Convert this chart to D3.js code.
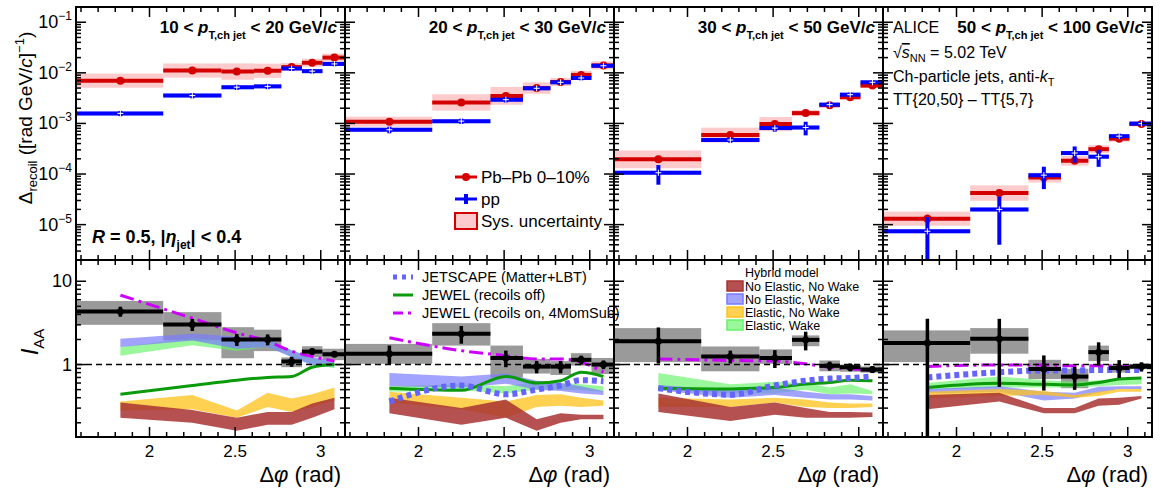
<!DOCTYPE html>
<html>
<head>
<meta charset="utf-8">
<script src="https://cdn.jsdelivr.net/npm/d3@7"></script>
<style>
body { margin: 0; background: #fff; }
text { font-family: "Liberation Sans", Arial, Helvetica, sans-serif; fill: #000; }
</style>
</head>
<body>
<svg id="chart" width="1162" height="488"></svg>
<script>
// delta-phi binning (rad)
var dphiEdges = [Math.PI/2, 2.08, 2.42, 2.61, 2.77, 2.89, 3.01, Math.PI];
var dphiCenters = [1.83, 2.25, 2.51, 2.69, 2.83, 2.95, 3.08];
var ptBins = [['10','20'], ['20','30'], ['30','50'], ['50','100']];

// Delta_recoil, Pb-Pb 0-10%
var pbpbVal = [
	[7.0e-3, 1.11e-2, 1.06e-2, 1.1e-2, 1.3e-2, 1.58e-2, 2.0e-2],
	[1.08e-3, 2.6e-3, 3.5e-3, 5.0e-3, 6.6e-3, 9.1e-3, 1.4e-2],
	[1.95e-4, 5.9e-4, 9.7e-4, 1.6e-3, 2.3e-3, 3.3e-3, 5.6e-3],
	[1.31e-5, 4.2e-5, 8.5e-5, 1.83e-4, 3.1e-4, 5.0e-4, 9.8e-4]];
var pbpbStat = [
	[0.08, 0.08, 0.08, 0.08, 0.06, 0.06, 0.06],
	[0.1, 0.08, 0.08, 0.06, 0.06, 0.06, 0.06],
	[0.12, 0.1, 0.08, 0.08, 0.06, 0.06, 0.06],
	[0.2, 0.12, 0.1, 0.1, 0.08, 0.06, 0.06]];
var pbpbSys = [ // multiplicative
	[1.38, 1.38, 1.45, 1.38, 1.2, 1.2, 1.2],
	[1.26, 1.45, 1.5, 1.3, 1.2, 1.2, 1.2],
	[1.5, 1.4, 1.38, 1.15, 1.12, 1.12, 1.12],
	[1.38, 1.42, 1.25, 1.25, 1.2, 1.15, 1.12]];

// Delta_recoil, pp
var ppVal = [
	[1.58e-3, 3.55e-3, 5.2e-3, 5.4e-3, 1.22e-2, 1.08e-2, 1.5e-2],
	[7.5e-4, 1.11e-3, 2.95e-3, 4.95e-3, 6.5e-3, 7.9e-3, 1.38e-2],
	[1.06e-4, 4.7e-4, 8.1e-4, 8.3e-4, 2.35e-3, 3.7e-3, 6.5e-3],
	[7.4e-6, 2.0e-5, 9.5e-5, 2.6e-4, 2.2e-4, 5.6e-4, 9.9e-4]];
var ppStat = [
	[0.12, 0.12, 0.12, 0.12, 0.1, 0.1, 0.1],
	[0.15, 0.12, 0.12, 0.1, 0.1, 0.1, 0.08],
	[0.42, 0.12, 0.15, 0.3, 0.1, 0.1, 0.08],
	[0.9, 0.8, 0.47, 0.35, 0.37, 0.12, 0.08]];
var ppSys = 1.1;

// I_AA data
var iaaVal = [
	[4.35, 3.03, 2.0, 2.0, 1.09, 1.43, 1.33],
	[1.35, 2.34, 1.2, 0.945, 0.945, 1.14, 1.0],
	[1.91, 1.25, 1.2, 1.98, 0.965, 0.93, 0.87],
	[1.81, 2.04, 0.887, 0.717, 1.41, 0.91, 0.945]];
var iaaStat = [
	[0.6, 0.5, 0.33, 0.3, 0.15, 0.12, 0.1],
	[0.34, 0.56, 0.27, 0.16, 0.16, 0.14, 0.12],
	[0.88, 0.22, 0.29, 0.5, 0.12, 0.1, 0.08],
	[1.74, 1.5, 0.4, 0.22, 0.44, 0.22, 0.12]];
var iaaSysLo = [
	[3.0, 1.95, 1.19, 1.45, 0.93, 1.22, 1.13],
	[1.02, 1.69, 0.70, 0.78, 0.75, 0.97, 0.77],
	[1.07, 0.83, 1.02, 1.66, 0.83, 0.82, 0.8],
	[1.07, 1.35, 0.67, 0.52, 1.1, 0.8, 0.88]];
var iaaSysHi = [
	[5.8, 4.26, 2.81, 2.62, 1.22, 1.66, 1.55],
	[1.77, 3.14, 1.69, 1.17, 1.1, 1.37, 1.2],
	[2.74, 1.65, 1.52, 2.24, 1.12, 1.0, 0.95],
	[2.57, 2.74, 1.14, 0.89, 1.69, 1.0, 1.02]];

// models
var jewelOn = [
	[6.8, 3.6, 2.4, 1.9, 1.45, 1.25, 1.1],
	[2.1, 1.47, 1.28, 1.17, 1.17, 1.07, 0.81],
	[1.17, 1.12, 1.1, 1.02, 0.93, 0.89, 0.85],
	[0.95, 0.99, 0.99, 0.97, 0.97, 0.95, 0.93]];
var jewelOff = [
	[0.44, 0.56, 0.65, 0.70, 0.72, 0.93, 1.0],
	[0.52, 0.49, 0.72, 0.60, 0.64, 0.81, 0.72],
	[0.52, 0.51, 0.53, 0.585, 0.61, 0.65, 0.64],
	[0.53, 0.595, 0.58, 0.57, 0.61, 0.67, 0.69]];
var jetscape = [
	null,
	[0.36, 0.56, 0.44, 0.50, 0.56, 0.65, 0.63],
	[0.52, 0.435, 0.56, 0.64, 0.68, 0.69, 0.72],
	[0.70, 0.81, 0.85, 0.85, 0.86, 0.86, 0.86]];

// hybrid model bands
var hybNoElNoWakeLo = [
	[0.23, 0.20, 0.16, 0.19, 0.19, 0.23, 0.29],
	[0.26, 0.19, 0.23, 0.16, 0.20, 0.22, 0.22],
	[0.27, 0.21, 0.25, 0.23, 0.23, 0.23, 0.235],
	[0.29, 0.36, 0.26, 0.26, 0.32, 0.33, 0.39]];
var hybNoElNoWakeHi = [
	[0.35, 0.285, 0.23, 0.27, 0.27, 0.34, 0.40],
	[0.40, 0.30, 0.38, 0.22, 0.26, 0.25, 0.25],
	[0.45, 0.31, 0.35, 0.30, 0.27, 0.27, 0.265],
	[0.43, 0.46, 0.30, 0.30, 0.39, 0.40, 0.42]];
var hybNoElWakeLo = [
	[1.62, 1.95, 1.55, 1.62, 1.22, 0.98, 0.94],
	[0.55, 0.53, 0.59, 0.50, 0.48, 0.45, 0.43],
	[0.49, 0.40, 0.43, 0.40, 0.38, 0.38, 0.37],
	[0.45, 0.47, 0.37, 0.39, 0.46, 0.51, 0.51]];
var hybNoElWakeHi = [
	[2.04, 2.34, 2.17, 2.04, 1.47, 1.22, 1.12],
	[0.79, 0.72, 0.78, 0.64, 0.60, 0.55, 0.48],
	[0.57, 0.49, 0.53, 0.47, 0.44, 0.44, 0.42],
	[0.51, 0.55, 0.47, 0.46, 0.54, 0.55, 0.55]];
var hybElNoWakeLo = [
	[0.28, 0.29, 0.23, 0.31, 0.27, 0.31, 0.37],
	[0.35, 0.29, 0.23, 0.31, 0.32, 0.31, 0.32],
	[0.31, 0.31, 0.35, 0.31, 0.30, 0.30, 0.31],
	[0.39, 0.42, 0.43, 0.40, 0.42, 0.47, 0.47]];
var hybElNoWakeHi = [
	[0.36, 0.43, 0.28, 0.46, 0.39, 0.44, 0.53],
	[0.47, 0.40, 0.36, 0.43, 0.44, 0.40, 0.37],
	[0.40, 0.38, 0.40, 0.38, 0.35, 0.34, 0.34],
	[0.47, 0.51, 0.48, 0.43, 0.47, 0.51, 0.51]];
var hybElWakeLo = [
	[1.28, 1.7, 1.45, 1.65, 1.25, 1.0, 0.9],
	[0.47, 0.49, 0.45, 0.50, 0.50, 0.49, 0.47],
	[0.50, 0.45, 0.45, 0.50, 0.44, 0.45, 0.44],
	[0.50, 0.53, 0.53, 0.53, 0.55, 0.57, 0.58]];
var hybElWakeHi = [
	[1.62, 2.1, 1.9, 2.0, 1.5, 1.2, 1.05],
	[0.55, 0.58, 0.55, 0.62, 0.60, 0.58, 0.55],
	[0.79, 0.58, 0.62, 0.60, 0.53, 0.58, 0.48],
	[0.60, 0.72, 0.65, 0.62, 0.65, 0.67, 0.67]];

var svg = d3.select('#chart');
var left = 76, panelW = 269, topY = 7, midY = 260, botY = 437;
var yTop = d3.scaleLog().domain([2e-6, 0.2]).range([midY, topY]);
var yBot = d3.scaleLog().domain([0.135, 18]).range([botY, midY]);
var bins = d3.range(7);

var bands = [
	{lo: hybNoElNoWakeLo, hi: hybNoElNoWakeHi, fill: '#a83232', op: 0.85, name: 'No Elastic, No Wake'},
	{lo: hybNoElWakeLo, hi: hybNoElWakeHi, fill: '#7a7aff', op: 0.7, name: 'No Elastic, Wake'},
	{lo: hybElNoWakeLo, hi: hybElNoWakeHi, fill: '#ffc21a', op: 0.75, name: 'Elastic, No Wake'},
	{lo: hybElWakeLo, hi: hybElWakeHi, fill: '#66f266', op: 0.65, name: 'Elastic, Wake'}];
var drawOrder = [3, 1, 2, 0];

var defs = svg.append('defs');

function logTicks(lo, hi) {
	var major = [], minor = [];
	for (var e = -7; e <= 2; e++)
		for (var k = 1; k < 10; k++) {
			var v = k * Math.pow(10, e);
			if (v < lo || v > hi) continue;
			(k == 1 ? major : minor).push(v);
		}
	return {major: major, minor: minor};
}

ptBins.forEach(function(pt, p) {
	var x0 = left + p*panelW, x1 = x0 + panelW;
	var x = d3.scaleLinear().domain([Math.PI/2, Math.PI]).range([x0, x1]);

	defs.append('clipPath').attr('id', 'ct'+p).append('rect')
		.attr('x', x0).attr('y', topY).attr('width', panelW).attr('height', midY-topY);
	defs.append('clipPath').attr('id', 'cb'+p).append('rect')
		.attr('x', x0).attr('y', midY).attr('width', panelW).attr('height', botY-midY);

	// ---------- top panel ----------
	var gt = svg.append('g').attr('clip-path', 'url(#ct'+p+')');
	gt.selectAll('.pbsys').data(bins).join('rect')
		.attr('x', i => x(dphiEdges[i])).attr('width', i => x(dphiEdges[i+1]) - x(dphiEdges[i]))
		.attr('y', i => yTop(pbpbVal[p][i]*pbpbSys[p][i]))
		.attr('height', i => yTop(pbpbVal[p][i]/pbpbSys[p][i]) - yTop(pbpbVal[p][i]*pbpbSys[p][i]))
		.attr('fill', '#fa8c8c').attr('fill-opacity', 0.45);
	gt.selectAll('.ppsys').data(bins).join('rect')
		.attr('x', i => x(dphiEdges[i])).attr('width', i => x(dphiEdges[i+1]) - x(dphiEdges[i]))
		.attr('y', i => yTop(ppVal[p][i]*ppSys))
		.attr('height', i => yTop(ppVal[p][i]/ppSys) - yTop(ppVal[p][i]*ppSys))
		.attr('fill', '#9d9dff').attr('fill-opacity', 0.5);

	// Pb-Pb
	gt.selectAll('.pbbar').data(bins).join('line')
		.attr('x1', i => x(dphiEdges[i])).attr('x2', i => x(dphiEdges[i+1]))
		.attr('y1', i => yTop(pbpbVal[p][i])).attr('y2', i => yTop(pbpbVal[p][i]))
		.attr('stroke', '#d40000').attr('stroke-width', 4);
	gt.selectAll('.pberr').data(bins).join('line')
		.attr('x1', i => x(dphiCenters[i])).attr('x2', i => x(dphiCenters[i]))
		.attr('y1', i => yTop(pbpbVal[p][i]*(1+pbpbStat[p][i])))
		.attr('y2', i => yTop(pbpbVal[p][i]*(1-pbpbStat[p][i])))
		.attr('stroke', '#d40000').attr('stroke-width', 3);
	gt.selectAll('.pbdot').data(bins).join('circle')
		.attr('cx', i => x(dphiCenters[i])).attr('cy', i => yTop(pbpbVal[p][i])).attr('r', 4)
		.attr('fill', '#d40000');

	// pp
	gt.selectAll('.ppbar').data(bins).join('line')
		.attr('x1', i => x(dphiEdges[i])).attr('x2', i => x(dphiEdges[i+1]))
		.attr('y1', i => yTop(ppVal[p][i])).attr('y2', i => yTop(ppVal[p][i]))
		.attr('stroke', '#0000ff').attr('stroke-width', 4);
	gt.selectAll('.pperr').data(bins).join('line')
		.attr('x1', i => x(dphiCenters[i])).attr('x2', i => x(dphiCenters[i]))
		.attr('y1', i => yTop(ppVal[p][i]*(1+ppStat[p][i])))
		.attr('y2', i => yTop(Math.max(ppVal[p][i]*(1-ppStat[p][i]), 1e-7)))
		.attr('stroke', '#0000ff').attr('stroke-width', 4);
	gt.selectAll('.ppmk').data(bins).join('path')
		.attr('d', i => {
			var cx = x(dphiCenters[i]), cy = yTop(ppVal[p][i]);
			return 'M'+(cx-3)+','+cy+'H'+(cx+3)+'M'+cx+','+(cy-3)+'V'+(cy+3);
		})
		.attr('stroke', '#fff').attr('stroke-width', 1);

	// ---------- bottom panel ----------
	var gb = svg.append('g').attr('clip-path', 'url(#cb'+p+')');
	gb.selectAll('.iaasys').data(bins).join('rect')
		.attr('x', i => x(dphiEdges[i])).attr('width', i => x(dphiEdges[i+1]) - x(dphiEdges[i]))
		.attr('y', i => yBot(iaaSysHi[p][i]))
		.attr('height', i => yBot(iaaSysLo[p][i]) - yBot(iaaSysHi[p][i]))
		.attr('fill', '#9a9a9a');

	drawOrder.forEach(function(b) {
		var band = bands[b];
		var area = d3.area()
			.x(i => x(dphiCenters[i]))
			.y0(i => yBot(band.lo[p][i]))
			.y1(i => yBot(band.hi[p][i]));
		gb.append('path').datum(bins).attr('d', area)
			.attr('fill', band.fill).attr('fill-opacity', band.op);
	});

	var line = function(arr) {
		return d3.line().x(i => x(dphiCenters[i])).y(i => yBot(arr[i])).curve(d3.curveMonotoneX);
	};
	gb.append('path').datum(bins).attr('d', line(jewelOff[p]))
		.attr('fill', 'none').attr('stroke', '#0a9a0a').attr('stroke-width', 3);
	if (jetscape[p])
		gb.append('path').datum(bins).attr('d', line(jetscape[p]))
			.attr('fill', 'none').attr('stroke', '#6464ff').attr('stroke-width', 6)
			.attr('stroke-dasharray', '5,4');
	gb.append('path').datum(bins).attr('d', line(jewelOn[p]))
		.attr('fill', 'none').attr('stroke', '#cc00ff').attr('stroke-width', 3)
		.attr('stroke-dasharray', '14,5,3,5');

	gb.append('line').attr('x1', x0).attr('x2', x1).attr('y1', yBot(1)).attr('y2', yBot(1))
		.attr('stroke', '#000').attr('stroke-width', 1.5).attr('stroke-dasharray', '6,4');

	gb.selectAll('.iaabar').data(bins).join('line')
		.attr('x1', i => x(dphiEdges[i])).attr('x2', i => x(dphiEdges[i+1]))
		.attr('y1', i => yBot(iaaVal[p][i])).attr('y2', i => yBot(iaaVal[p][i]))
		.attr('stroke', '#000').attr('stroke-width', 4);
	gb.selectAll('.iaaerr').data(bins).join('line')
		.attr('x1', i => x(dphiCenters[i])).attr('x2', i => x(dphiCenters[i]))
		.attr('y1', i => yBot(iaaVal[p][i] + iaaStat[p][i]))
		.attr('y2', i => yBot(Math.max(iaaVal[p][i] - iaaStat[p][i], 0.05)))
		.attr('stroke', '#000').attr('stroke-width', 3.5);
	gb.selectAll('.iaadot').data(bins).join('circle')
		.attr('cx', i => x(dphiCenters[i])).attr('cy', i => yBot(iaaVal[p][i])).attr('r', 3.5)
		.attr('fill', '#000');

	// ---------- frames and ticks ----------
	var ax = svg.append('g').attr('stroke', '#000').attr('fill', 'none');
	ax.append('rect').attr('x', x0).attr('y', topY).attr('width', panelW).attr('height', midY-topY).attr('stroke-width', 2);
	ax.append('rect').attr('x', x0).attr('y', midY).attr('width', panelW).attr('height', botY-midY).attr('stroke-width', 2);

	var xMinor = d3.range(16, 32).map(d => d/10);
	var xMajor = [2, 2.5, 3];
	[[topY, 1], [midY, -1], [midY, 1], [botY, -1]].forEach(function(s) {
		xMinor.forEach(function(v) {
			var big = xMajor.indexOf(v) >= 0 || Math.abs(v-2.5) < 1e-6;
			ax.append('line').attr('x1', x(v)).attr('x2', x(v))
				.attr('y1', s[0]).attr('y2', s[0] + s[1]*(big ? 10 : 5)).attr('stroke-width', 1.5);
		});
	});
	[[yTop, logTicks(2e-6, 0.2)], [yBot, logTicks(0.135, 18)]].forEach(function(a) {
		var sc = a[0], t = a[1];
		t.major.concat(t.minor).forEach(function(v) {
			var len = t.major.indexOf(v) >= 0 ? 10 : 5;
			ax.append('line').attr('x1', x0).attr('x2', x0+len).attr('y1', sc(v)).attr('y2', sc(v)).attr('stroke-width', 1.5);
			ax.append('line').attr('x1', x1).attr('x2', x1-len).attr('y1', sc(v)).attr('y2', sc(v)).attr('stroke-width', 1.5);
		});
	});

	// x tick labels and title
	xMajor.forEach(function(v) {
		svg.append('text').attr('x', x(v)).attr('y', 457).attr('text-anchor', 'middle')
			.attr('font-size', 17).text(v);
	});
	var xt = svg.append('text').attr('x', x1 - 4).attr('y', 482).attr('text-anchor', 'end').attr('font-size', 22);
	xt.append('tspan').text('Δ');
	xt.append('tspan').attr('font-style', 'italic').text('φ');
	xt.append('tspan').text(' (rad)');

	// panel title
	var tt = svg.append('text').attr('x', x1 - 8).attr('y', 33).attr('text-anchor', 'end')
		.attr('font-size', 17).attr('font-weight', 'bold');
	tt.append('tspan').text(pt[0] + ' < ');
	tt.append('tspan').attr('font-style', 'italic').text('p');
	tt.append('tspan').attr('font-size', 11).attr('dy', 6).text('T,ch jet');
	tt.append('tspan').attr('dy', -6).text(' < ' + pt[1] + ' GeV/');
	tt.append('tspan').attr('font-style', 'italic').text('c');
});

// y tick labels (left panel only)
[-5, -4, -3, -2, -1].forEach(function(e) {
	var t = svg.append('text').attr('x', 72).attr('y', yTop(Math.pow(10, e)) + 6)
		.attr('text-anchor', 'end').attr('font-size', 18);
	t.append('tspan').text('10');
	t.append('tspan').attr('font-size', 12).attr('dy', -8).text('−' + (-e));
});
[[10, '10'], [1, '1']].forEach(function(d) {
	svg.append('text').attr('x', 72).attr('y', yBot(d[0]) + 6).attr('text-anchor', 'end')
		.attr('font-size', 18).text(d[1]);
});

// y axis titles
var yt = svg.append('text').attr('transform', 'translate(32,118) rotate(-90)')
	.attr('text-anchor', 'middle').attr('font-size', 19);
yt.append('tspan').text('Δ');
yt.append('tspan').attr('font-size', 13).attr('dy', 5).text('recoil');
yt.append('tspan').attr('dy', -5).text(' ([rad GeV/');
yt.append('tspan').attr('font-style', 'italic').text('c');
yt.append('tspan').text(']');
yt.append('tspan').attr('font-size', 13).attr('dy', -8).text('−1');
yt.append('tspan').attr('dy', 8).text(')');

var it = svg.append('text').attr('transform', 'translate(38,342) rotate(-90)')
	.attr('text-anchor', 'middle').attr('font-size', 24);
it.append('tspan').attr('font-style', 'italic').text('I');
it.append('tspan').attr('font-size', 15).attr('dy', 6).text('AA');

// R / eta label
var rl = svg.append('text').attr('x', 92).attr('y', 243).attr('font-size', 18).attr('font-weight', 'bold');
rl.append('tspan').attr('font-style', 'italic').text('R');
rl.append('tspan').text(' = 0.5, |');
rl.append('tspan').attr('font-style', 'italic').text('η');
rl.append('tspan').attr('font-size', 12).attr('dy', 6).text('jet');
rl.append('tspan').attr('dy', -6).text('| < 0.4');

// ALICE block
var ax4 = left + 3*panelW + 10;
svg.append('text').attr('x', ax4).attr('y', 33).attr('font-size', 16).text('ALICE');
var sq = svg.append('text').attr('x', ax4).attr('y', 58).attr('font-size', 16);
sq.append('tspan').text('√');
sq.append('tspan').attr('font-style', 'italic').style('text-decoration', 'overline').text('s');
sq.append('tspan').attr('font-size', 11).attr('dy', 4).text('NN');
sq.append('tspan').attr('dy', -4).text(' = 5.02 TeV');
var ch = svg.append('text').attr('x', ax4).attr('y', 82).attr('font-size', 16);
ch.append('tspan').text('Ch-particle jets, anti-');
ch.append('tspan').attr('font-style', 'italic').text('k');
ch.append('tspan').attr('font-size', 11).attr('dy', 4).text('T');
svg.append('text').attr('x', ax4).attr('y', 105).attr('font-size', 16).text('TT{20,50} – TT{5,7}');

// top legend
var lg = svg.append('g');
var lgx = 455, lgText = 481;
lg.append('line').attr('x1', lgx).attr('x2', lgx+22).attr('y1', 177).attr('y2', 177).attr('stroke', '#d40000').attr('stroke-width', 3);
lg.append('circle').attr('cx', lgx+11).attr('cy', 177).attr('r', 4).attr('fill', '#d40000');
lg.append('line').attr('x1', lgx).attr('x2', lgx+22).attr('y1', 199).attr('y2', 199).attr('stroke', '#0000ff').attr('stroke-width', 3);
lg.append('path').attr('d', 'M'+(lgx+11)+',194V204').attr('stroke', '#0000ff').attr('stroke-width', 4);
lg.append('rect').attr('x', lgx).attr('y', 213).attr('width', 22).attr('height', 16)
	.attr('fill', '#fdcbcb').attr('stroke', '#d40000').attr('stroke-width', 2);
[['Pb–Pb 0–10%', 177], ['pp', 199], ['Sys. uncertainty', 221]].forEach(function(d) {
	lg.append('text').attr('x', lgText).attr('y', d[1] + 6).attr('font-size', 17).text(d[0]);
});

// model legend
var ml = svg.append('g');
ml.append('line').attr('x1', 393).attr('x2', 413).attr('y1', 277).attr('y2', 277)
	.attr('stroke', '#6464ff').attr('stroke-width', 5).attr('stroke-dasharray', '4,5');
ml.append('line').attr('x1', 393).attr('x2', 413).attr('y1', 295).attr('y2', 295)
	.attr('stroke', '#0a9a0a').attr('stroke-width', 3);
ml.append('line').attr('x1', 393).attr('x2', 413).attr('y1', 313).attr('y2', 313)
	.attr('stroke', '#cc00ff').attr('stroke-width', 3).attr('stroke-dasharray', '10,5,3,5');
[['JETSCAPE (Matter+LBT)', 277], ['JEWEL (recoils off)', 295], ['JEWEL (recoils on, 4MomSub)', 313]].forEach(function(d) {
	ml.append('text').attr('x', 422).attr('y', d[1] + 5).attr('font-size', 14.5).text(d[0]);
});

// hybrid legend
var hl = svg.append('g');
hl.append('text').attr('x', 745).attr('y', 277).attr('font-size', 12.5).text('Hybrid model');
bands.forEach(function(b, i) {
	var cy = 286 + i*13;
	hl.append('rect').attr('x', 727).attr('y', cy-5).attr('width', 16).attr('height', 10)
		.attr('fill', b.fill).attr('fill-opacity', b.op).attr('stroke', b.fill).attr('stroke-width', 1.5);
	hl.append('text').attr('x', 745).attr('y', cy + 4.5).attr('font-size', 12.5).text(b.name);
});
</script>
</body>
</html>
